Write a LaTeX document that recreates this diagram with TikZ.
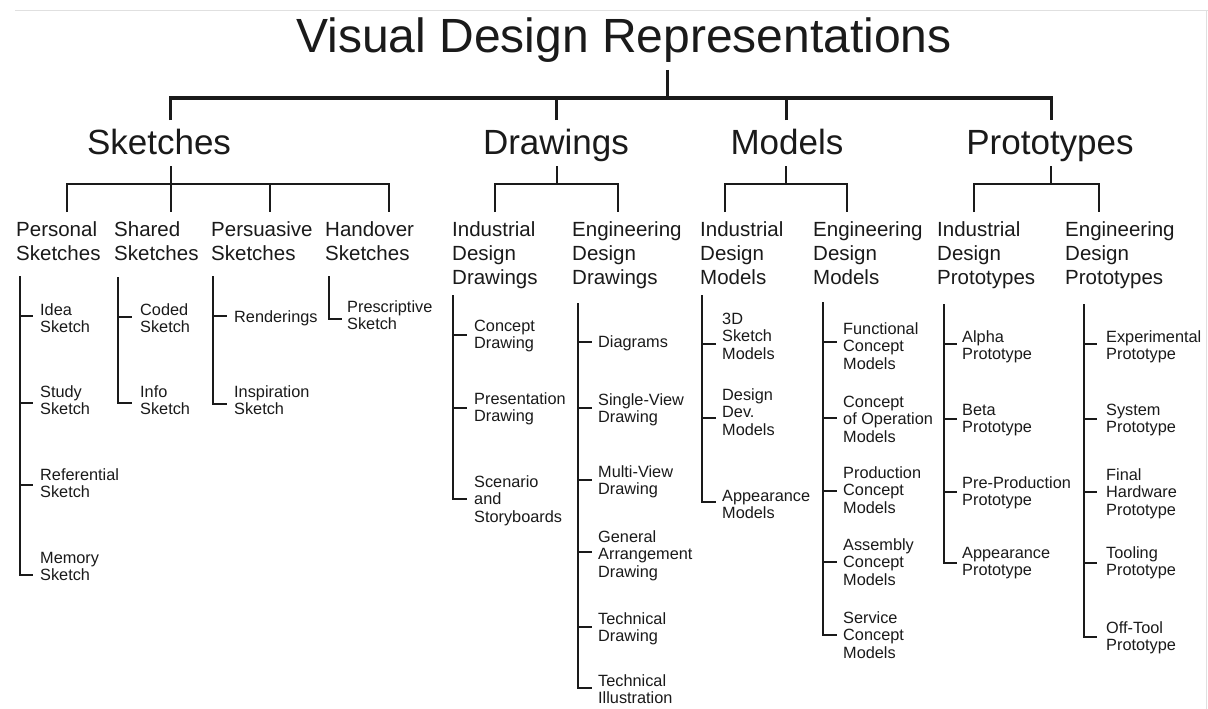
\documentclass[tikz,border=0pt]{standalone}
\usepackage{fontspec}
\setmainfont{Liberation Sans}
\newcommand\lns[1]{\begin{tabular}[t]{@{}l@{}}#1\end{tabular}}
\definecolor{ink}{HTML}{1A1A1A}
\begin{document}
\begin{tikzpicture}[x=1pt,y=-1pt,
  ttl/.style={font=\fontsize{48}{56}\selectfont, anchor=base, inner sep=0pt, text=ink},
  cat/.style={font=\fontsize{35}{40}\selectfont, anchor=base, inner sep=0pt, text=ink},
  sub/.style={font=\fontsize{20.5}{24}\selectfont, anchor=base west, inner sep=0pt, text=ink},
  leaf/.style={font=\fontsize{16.3}{17.5}\selectfont, anchor=base west, inner sep=0pt, text=ink},
  bigln/.style={draw=ink, line width=3pt, line join=miter},
  ln/.style={draw=ink, line width=2pt, line join=miter},
  frame/.style={draw=black!12, line width=1pt}]
\useasboundingbox (0,0) rectangle (1208,709);
\fill[white] (0,0) rectangle (1208,709);
\draw[frame] (15,11) -- (1208,11);
\draw[frame] (1206,11) -- (1206,709);

% title and categories
\node[ttl] (T) at (624,53) {Visual Design Representations};
\node[cat] (C1) at (159,154) {Sketches};
\node[cat] (C2) at (556,154) {Drawings};
\node[cat] (C3) at (787,154) {Models};
\node[cat] (C4) at (1050,154) {Prototypes};

\coordinate (tst) at (667,70);
\coordinate (bar) at (667,98);
\coordinate (c1t) at (170,120);
\coordinate (c2t) at (556,120);
\coordinate (c3t) at (786,120);
\coordinate (c4t) at (1051,120);
\draw[bigln] (tst) -- (bar);
\draw[bigln] (c1t) |- (c4t |- bar) -- (c4t);
\draw[bigln] (c2t) -- (c2t |- bar);
\draw[bigln] (c3t) -- (c3t |- bar);

% sub-category bars
\draw[ln] (171,166) -- (171,212);
\draw[ln] (67,212) |- (389,184) -- (389,212);
\draw[ln] (270,184) -- (270,212);
\draw[ln] (557,166) -- (557,184);
\draw[ln] (495,212) |- (618,184) -- (618,212);
\draw[ln] (786,166) -- (786,184);
\draw[ln] (725,212) |- (847,184) -- (847,212);
\draw[ln] (1051,166) -- (1051,184);
\draw[ln] (974,212) |- (1099,184) -- (1099,212);

% sub-category labels
\node[sub] (S1) at (16,236) {\lns{Personal\\Sketches}};
\node[sub] (S2) at (114,236) {\lns{Shared\\Sketches}};
\node[sub] (S3) at (211,236) {\lns{Persuasive\\Sketches}};
\node[sub] (S4) at (325,236) {\lns{Handover\\Sketches}};
\node[sub] (D1) at (452,236) {\lns{Industrial\\Design\\Drawings}};
\node[sub] (D2) at (572,236) {\lns{Engineering\\Design\\Drawings}};
\node[sub] (M1) at (700,236) {\lns{Industrial\\Design\\Models}};
\node[sub] (M2) at (813,236) {\lns{Engineering\\Design\\Models}};
\node[sub] (P1) at (937,236) {\lns{Industrial\\Design\\Prototypes}};
\node[sub] (P2) at (1065,236) {\lns{Engineering\\Design\\Prototypes}};

% Personal sketches
\draw[ln] (20,276) |- (33,575);
\foreach \i/\t/\b/\s in {1/316/315/Idea\\Sketch, 2/403/397/Study\\Sketch, 3/485/480/Referential\\Sketch}{
  \node[leaf] (ps\i) at (40,\b) {\lns{\s}};
  \draw[ln] (20,\t) -- ++(13,0);
}
\node[leaf] (ps4) at (40,563) {\lns{Memory\\Sketch}};

% Shared sketches
\draw[ln] (118,277) |- (132,403);
\draw[ln] (118,317) -- ++(14,0);
\node[leaf] (ss1) at (140,315) {\lns{Coded\\Sketch}};
\node[leaf] (ss2) at (140,397) {\lns{Info\\Sketch}};

% Persuasive sketches
\draw[ln] (213,276) |- (227,404);
\draw[ln] (213,316) -- ++(14,0);
\node[leaf] (pe1) at (234,322) {Renderings};
\node[leaf] (pe2) at (234,397) {\lns{Inspiration\\Sketch}};

% Handover sketches
\draw[ln] (329,276) |- (342,319);
\node[leaf] (hs1) at (347,312) {\lns{Prescriptive\\Sketch}};

% Industrial design drawings
\draw[ln] (453,295) |- (467,499);
\foreach \i/\t/\b/\s in {1/335/331/Concept\\Drawing, 2/408/404/Presentation\\Drawing}{
  \node[leaf] (idd\i) at (474,\b) {\lns{\s}};
  \draw[ln] (453,\t) -- ++(14,0);
}
\node[leaf] (idd3) at (474,487) {\lns{Scenario\\and\\Storyboards}};

% Engineering design drawings
\draw[ln] (578,303) |- (592,688);
\foreach \i/\t/\b/\s in {1/342/347/Diagrams, 2/408/405/Single-View\\Drawing, 3/480/477/Multi-View\\Drawing, 4/552/542/General\\Arrangement\\Drawing, 5/627/624/Technical\\Drawing}{
  \node[leaf] (edd\i) at (598,\b) {\lns{\s}};
  \draw[ln] (578,\t) -- ++(14,0);
}
\node[leaf] (edd6) at (598,686) {\lns{Technical\\Illustration}};

% Industrial design models
\draw[ln] (702,295) |- (716,502);
\foreach \i/\t/\b/\s in {1/344/324/3D\\Sketch\\Models, 2/418/400/Design\\Dev.\\Models}{
  \node[leaf] (idm\i) at (722,\b) {\lns{\s}};
  \draw[ln] (702,\t) -- ++(14,0);
}
\node[leaf] (idm3) at (722,501) {\lns{Appearance\\Models}};

% Engineering design models
\draw[ln] (823,302) |- (837,635);
\foreach \i/\t/\b/\s in {1/342/334/Functional\\Concept\\Models, 2/418/407/Concept\\of Operation\\Models, 3/491/478/Production\\Concept\\Models, 4/562/550/Assembly\\Concept\\Models}{
  \node[leaf] (edm\i) at (843,\b) {\lns{\s}};
  \draw[ln] (823,\t) -- ++(14,0);
}
\node[leaf] (edm5) at (843,623) {\lns{Service\\Concept\\Models}};

% Industrial design prototypes
\draw[ln] (944,304) |- (957,563);
\foreach \i/\t/\b/\s in {1/344/342/Alpha\\Prototype, 2/419/415/Beta\\Prototype, 3/492/488/Pre-Production\\Prototype}{
  \node[leaf] (idp\i) at (962,\b) {\lns{\s}};
  \draw[ln] (944,\t) -- ++(13,0);
}
\node[leaf] (idp4) at (962,558) {\lns{Appearance\\Prototype}};

% Engineering design prototypes
\draw[ln] (1084,304) |- (1097,637);
\foreach \i/\t/\b/\s in {1/344/342/Experimental\\Prototype, 2/419/415/System\\Prototype, 3/492/480/Final\\Hardware\\Prototype, 4/563/558/Tooling\\Prototype}{
  \node[leaf] (edp\i) at (1106,\b) {\lns{\s}};
  \draw[ln] (1084,\t) -- ++(13,0);
}
\node[leaf] (edp5) at (1106,633) {\lns{Off-Tool\\Prototype}};
\end{tikzpicture}
\end{document}
